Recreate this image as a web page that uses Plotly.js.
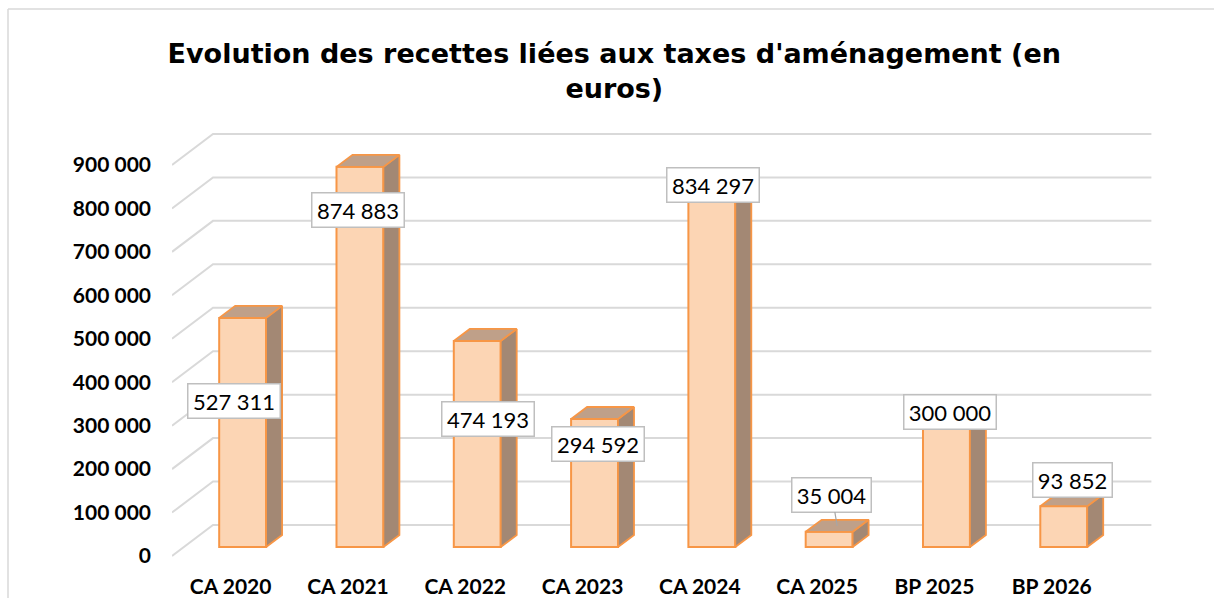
<!DOCTYPE html>
<html>
<head>
<meta charset="utf-8">
<script src="https://cdn.plot.ly/plotly-3.0.1.min.js"></script>
<style>
  html, body { margin: 0; padding: 0; background: #ffffff; }
  #chart { width: 1214px; height: 598px; }
</style>
</head>
<body>
<div id="chart"></div>
<script>
// ---- data ----
const categories = ["CA 2020", "CA 2021", "CA 2022", "CA 2023", "CA 2024", "CA 2025", "BP 2025", "BP 2026"];
const values = [527311, 874883, 474193, 294592, 834297, 35004, 300000, 93852];
const valueLabels = ["527 311", "874 883", "474 193", "294 592", "834 297", "35 004", "300 000", "93 852"];
const yTickValues = [0, 100000, 200000, 300000, 400000, 500000, 600000, 700000, 800000, 900000];
const yTickLabels = ["0", "100 000", "200 000", "300 000", "400 000", "500 000", "600 000", "700 000", "800 000", "900 000"];

// ---- pseudo-3D geometry (style constants, px converted to data units) ----
const PX_PER_CAT = 117.3;            // px per category
const UNITS_PER_PX = 100000 / 43.45;  // value units per px
const px2x = p => p / PX_PER_CAT;
const px2y = p => p * UNITS_PER_PX;

const floorDX = px2x(41), floorDY = px2y(31);   // full floor depth (wall)
const barFrontDX = px2x(12), barFrontDY = px2y(9); // bar front plane
const barDepthDX = px2x(16), barDepthDY = px2y(12); // bar depth
const barW = 0.4;

// label placement offsets (relative to category / in value units), styling only
const labelDX = [0.03, 1.085, 2.193, 3.13, 4.11, 5.126, 6.132, 7.181].map((v, i) => v - i);
const labelY  = [357000, 797200, 315600, 258000, 854800, 140500, 331800, 175100];

const xs = categories.map((c, i) => i);
const barX = xs.map(i => i + barFrontDX);
const barBase = values.map(() => barFrontDY);

// side faces & top faces as filled polygons
const sideX = [], sideY = [], topX = [], topY = [];
values.forEach((v, i) => {
  const xl = barX[i] - barW / 2, xr = barX[i] + barW / 2;
  const b = barFrontDY, t = barFrontDY + v;
  sideX.push(xr, xr + barDepthDX, xr + barDepthDX, xr, xr, null);
  sideY.push(b, b + barDepthDY, t + barDepthDY, t, b, null);
  topX.push(xl, xl + barDepthDX, xr + barDepthDX, xr, xl, null);
  topY.push(t, t + barDepthDY, t + barDepthDY, t, t, null);
});

const ORANGE = "#F79646";

const traces = [
  {
    type: "bar", x: barX, y: values, base: barBase, width: barW,
    marker: { color: "#FCD5B4", line: { color: ORANGE, width: 2 } },
    hoverinfo: "skip", showlegend: false
  },
  {
    type: "scatter", mode: "lines", x: sideX, y: sideY, fill: "toself",
    fillcolor: "#A38874", line: { color: ORANGE, width: 1.8 },
    hoverinfo: "skip", showlegend: false
  },
  {
    type: "scatter", mode: "lines", x: topX, y: topY, fill: "toself",
    fillcolor: "#BFA089", line: { color: ORANGE, width: 1.8 },
    hoverinfo: "skip", showlegend: false
  }
];

// back-wall gridlines with diagonal side-wall segments
const xFrontLeft = -0.5;
const xWallEnd = categories.length - 0.5 + floorDX;
const shapes = yTickValues.map(t => ({
  type: "path", xref: "x", yref: "y", layer: "below",
  path: `M ${xFrontLeft},${t} L ${xFrontLeft + floorDX},${t + floorDY} L ${xWallEnd},${t + floorDY}`,
  line: { color: "#D9D9D9", width: 2 }
}));
// chart frame (top and left edges)
shapes.push({ type: "line", xref: "paper", yref: "paper", x0: -164/980, x1: 1214/980 + 0.1, y0: 1.0 + 111/440, y1: 1.0 + 111/440, line: { color: "#D9D9D9", width: 1.5 } });
shapes.push({ type: "line", xref: "paper", yref: "paper", x0: -164/980, x1: -164/980, y0: 1.0 + 111/440, y1: -0.2, line: { color: "#D9D9D9", width: 1.5 } });

const annotations = values.map((v, i) => {
  const a = {
    xref: "x", yref: "y",
    text: valueLabels[i],
    font: { family: "Lato, 'Open Sans', sans-serif", size: 22, color: "#000000" },
    bgcolor: "#FFFFFF", bordercolor: "#BFBFBF", borderwidth: 1.5, borderpad: 3,
    width: 13 * valueLabels[i].length - 6,
    showarrow: false,
    x: i + labelDX[i], y: labelY[i]
  };
  if (i === 5) {
    a.showarrow = true;
    a.arrowhead = 0; a.arrowwidth = 1.2; a.arrowcolor = "#A6A6A6";
    a.axref = "x"; a.ayref = "y";
    a.ax = i + labelDX[i]; a.ay = labelY[i];
    a.x = barX[i] + barDepthDX / 2; a.y = barFrontDY + v + barDepthDY / 2;
    a.standoff = 0;
  }
  return a;
});

const plotTop = 120, plotBottom = 560;
const yMin = -px2y(plotBottom - 556);
const yMax = yMin + px2y(plotBottom - plotTop);

const layout = {
  width: 1214, height: 598,
  margin: { l: 172, r: 62, t: plotTop, b: 598 - plotBottom, pad: 0 },
  paper_bgcolor: "#FFFFFF", plot_bgcolor: "rgba(0,0,0,0)",
  title: {
    text: "Evolution des recettes liées aux taxes d'aménagement (en<br>euros)",
    x: 0.506, xanchor: "center", y: 0.895, yanchor: "top",
    font: { family: "'DejaVu Sans', 'Liberation Sans', Arial, sans-serif", size: 27, color: "#000000", weight: "bold" }
  },
  xaxis: {
    range: [xFrontLeft, xFrontLeft + 980 / PX_PER_CAT],
    tickvals: xs, ticktext: categories,
    showgrid: false, zeroline: false, showline: false, ticks: "",
    ticklabelstandoff: 12,
    tickfont: { family: "Lato, 'Open Sans', sans-serif", size: 21, color: "#000000", weight: "bold" },
    fixedrange: true
  },
  yaxis: {
    range: [yMin, yMax],
    tickvals: yTickValues, ticktext: yTickLabels,
    showgrid: false, zeroline: false, showline: false, ticks: "",
    ticklabelstandoff: 20,
    tickfont: { family: "Lato, 'Open Sans', sans-serif", size: 21, color: "#000000", weight: "bold" },
    fixedrange: true
  },
  shapes: shapes,
  annotations: annotations,
  showlegend: false,
  bargap: 0
};

Plotly.newPlot("chart", traces, layout, { displayModeBar: false, staticPlot: true });
</script>
</body>
</html>
